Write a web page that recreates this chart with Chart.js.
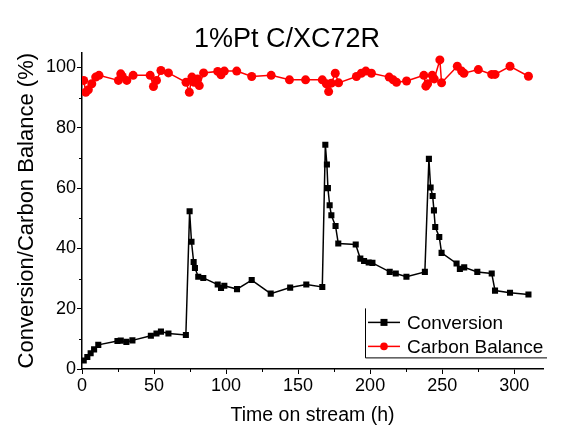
<!DOCTYPE html>
<html>
<head>
<meta charset="utf-8">
<script src="https://cdn.jsdelivr.net/npm/chart.js@4/dist/chart.umd.min.js"></script>
<style>
  html, body { margin: 0; padding: 0; background: #ffffff; }
  #wrap { width: 574px; height: 436px; position: relative; }
</style>
</head>
<body>
<div id="wrap"><canvas id="c" width="574" height="436"></canvas></div>
<script>
const chartTitle = "1%Pt C/XC72R";
const xAxisTitle = "Time on stream (h)";
const yAxisTitle = "Conversion/Carbon Balance (%)";
const seriesNames = ["Conversion", "Carbon Balance"];

const convTime = [1.2, 3.7, 6, 8.4, 11.3, 24.6, 26.9, 30.8, 35, 47.8, 51.7, 54.8, 60, 72.1,
  74.7, 76, 77.5, 78.4, 80.7, 84.2, 94.2, 96.5, 98.8, 107.6, 117.8, 131, 144.5, 155.7, 166.8,
  168.9, 170, 170.7, 171.9, 173.1, 176, 177.9, 190, 193.2, 195.8, 199, 201.6, 213.6, 217.8, 225.2,
  238, 240.8, 242, 243.4, 244.3, 245.2, 248, 249.6, 260, 262.3, 265.3, 274.4, 284.4, 286.7, 297.1, 309.9];
const conversion = [2.8, 4, 5.2, 6.5, 8, 9.3, 9.4, 9, 9.5, 11, 11.8, 12.4, 11.8, 11.3,
  52.3, 42.2, 35.5, 33.5, 30.6, 30.2, 28, 26.9, 27.6, 26.5, 29.5, 25, 27, 28, 27.2,
  74.4, 67.8, 60, 54.3, 51, 47.4, 41.6, 41.3, 36.6, 35.8, 35.3, 35.2, 32.2, 31.7, 30.6,
  32.2, 69.7, 60.2, 57.4, 52.6, 47.1, 43.8, 38.5, 35, 33.2, 33.7, 32.2, 31.7, 26, 25.3, 24.7];

const cbTime = [1.2, 2.6, 4.4, 6.8, 9.5, 11.8, 25.3, 26.9, 28, 31.1, 35.5, 47.3, 49.6, 51.7, 54.8, 60,
  72.2, 74.5, 76.3, 77.9, 80.2, 81.4, 84.4, 94.2, 96.5, 98.8, 107.4, 117.8, 131.3, 144, 155.2,
  166.8, 169.6, 171.2, 173.1, 175.8, 178.1, 190.5, 193.9, 197, 200.9, 213.2, 216, 218.3, 225.3,
  237.3, 238.7, 239.9, 243.1, 244.5, 248.4, 249.6, 260.5, 263.5, 265.1, 275.1, 284.4, 286.7, 297.1, 309.9];
const carbonBalance = [95.7, 91.8, 92.6, 94.6, 96.8, 97.4, 95.7, 97.9, 97, 95.7, 97.4, 97.4, 93.7, 95.7, 99, 98.2,
  95.1, 91.8, 96.8, 95.1, 96.2, 94, 98.2, 98.7, 97.6, 98.8, 98.8, 97, 97.4, 95.9, 95.9,
  95.9, 94.6, 92, 94.8, 98.1, 94.9, 97, 98.1, 98.8, 98.1, 96.8, 95.9, 95.1, 95.5,
  97.4, 93.8, 94.6, 97.4, 96.2, 102.5, 94.9, 100.4, 98.8, 98.1, 99.3, 97.7, 97.7, 100.4, 97.1];

const xMin = 0, xMax = 320, xMajor = 50, xMinor = 25;
const yMin = 0, yMax = 105, yMajor = 20, yMinor = 10;

const FONT = "'Liberation Sans', Arial, sans-serif";

function pairs(xs, ys) { return xs.map((x, i) => ({ x: x, y: ys[i] })); }

const minorTicks = {
  id: 'minorTicks',
  afterDraw(chart) {
    const ctx = chart.ctx, xs = chart.scales.x, ys = chart.scales.y;
    const ca = chart.chartArea;
    ctx.save();
    ctx.strokeStyle = '#000';
    ctx.lineWidth = 1;
    for (let v = xMin + xMinor; v < xMax; v += xMajor) {
      const px = Math.round(xs.getPixelForValue(v)) + 0.5;
      ctx.beginPath(); ctx.moveTo(px, ca.bottom); ctx.lineTo(px, ca.bottom + 3); ctx.stroke();
    }
    for (let v = yMin + yMinor; v < yMax; v += yMajor) {
      const py = Math.round(ys.getPixelForValue(v)) + 0.5;
      ctx.beginPath(); ctx.moveTo(ca.left, py); ctx.lineTo(ca.left - 3, py); ctx.stroke();
    }
    ctx.restore();
  }
};

const innerLegend = {
  id: 'innerLegend',
  afterDraw(chart) {
    const ctx = chart.ctx, ca = chart.chartArea;
    const left = ca.left + 283, top = ca.top + 256, bottom = ca.top + 305, right = ca.left + 465;
    ctx.save();
    ctx.strokeStyle = '#000';
    ctx.lineWidth = 1;
    ctx.beginPath();
    ctx.moveTo(left + 0.5, top); ctx.lineTo(left + 0.5, bottom + 0.5); ctx.lineTo(right, bottom + 0.5);
    ctx.stroke();
    ctx.font = "19px " + FONT;
    ctx.textBaseline = 'middle';
    chart.data.datasets.forEach((ds, i) => {
      const cy = top + 14 + i * 24;
      ctx.strokeStyle = ds.borderColor;
      ctx.lineWidth = 1.5;
      ctx.beginPath(); ctx.moveTo(left + 3, cy); ctx.lineTo(left + 35, cy); ctx.stroke();
      ctx.fillStyle = ds.backgroundColor;
      if (ds.pointStyle === 'rect') {
        ctx.fillRect(left + 19 - 3.5, cy - 3.5, 7, 7);
      } else {
        ctx.beginPath(); ctx.arc(left + 19, cy, 3.8, 0, Math.PI * 2); ctx.fill();
      }
      ctx.fillStyle = '#000';
      ctx.fillText(ds.label, left + 42, cy + 1);
    });
    ctx.restore();
  }
};

new Chart(document.getElementById('c'), {
  type: 'line',
  data: {
    datasets: [
      {
        label: seriesNames[0],
        data: pairs(convTime, conversion),
        borderColor: '#000000',
        backgroundColor: '#000000',
        borderWidth: 1.5,
        pointStyle: 'rect',
        pointRadius: 4.3,
        pointBorderWidth: 0,
        tension: 0
      },
      {
        label: seriesNames[1],
        data: pairs(cbTime, carbonBalance),
        borderColor: '#ff0000',
        backgroundColor: '#ff0000',
        borderWidth: 1.5,
        pointStyle: 'circle',
        pointRadius: 4.5,
        pointBorderWidth: 0,
        tension: 0
      }
    ]
  },
  options: {
    responsive: false,
    animation: false,
    events: [],
    layout: { padding: { left: 0, right: 0, top: 0, bottom: 0 } },
    plugins: {
      legend: { display: false },
      tooltip: { enabled: false },
      title: {
        display: true,
        text: chartTitle,
        color: '#000',
        font: { family: FONT, size: 27, weight: 'normal' },
        padding: { top: 23, bottom: -3 }
      }
    },
    scales: {
      x: {
        type: 'linear',
        min: xMin, max: xMax,
        afterFit(scale) { scale.height = 67; },
        border: { display: true, color: '#000', width: 1.5 },
        grid: { display: true, drawOnChartArea: false, drawTicks: true, tickLength: 5, color: '#000', lineWidth: 1 },
        ticks: { stepSize: xMajor, includeBounds: false, color: '#000', padding: 1, maxRotation: 0,
                 font: { family: FONT, size: 18 } },
        title: { display: true, text: xAxisTitle, color: '#000', font: { family: FONT, size: 19.5 },
                 padding: { top: 2, bottom: 9 } }
      },
      y: {
        type: 'linear',
        min: yMin, max: yMax,
        afterFit(scale) { scale.width = 82; },
        border: { display: true, color: '#000', width: 1.5 },
        grid: { display: true, drawOnChartArea: false, drawTicks: true, tickLength: 5, color: '#000', lineWidth: 1 },
        ticks: { stepSize: yMajor, includeBounds: false, color: '#000', padding: 1,
                 font: { family: FONT, size: 18 } },
        title: { display: true, text: yAxisTitle, color: '#000', font: { family: FONT, size: 22 },
                 padding: { top: 14, bottom: 0 } }
      },
      yRightSpace: {
        type: 'linear',
        position: 'right',
        min: 0, max: 1,
        afterFit(scale) { scale.width = 31; },
        border: { display: false },
        grid: { display: false, drawTicks: false },
        ticks: { display: false }
      }
    }
  },
  plugins: [minorTicks, innerLegend]
});
</script>
</body>
</html>
